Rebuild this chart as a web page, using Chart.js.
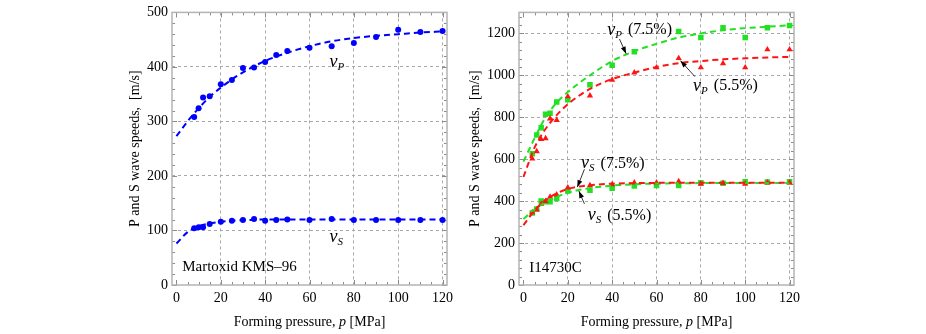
<!DOCTYPE html>
<html lang="en">
<head>
<meta charset="UTF-8">
<title>P and S wave speeds vs forming pressure</title>
<script src="https://cdn.jsdelivr.net/npm/chart.js"></script>
<style>
    body { margin: 0; background: #fff; }
    .wrap { position: relative; width: 926px; height: 334px; }
    canvas { position: absolute; top: 0; }
    #left { left: 0; }
    #right { left: 463px; }
</style>
</head>
<body>
<div class="wrap">
    <canvas id="left" width="463" height="334"></canvas>
    <canvas id="right" width="463" height="334"></canvas>
</div>
<script>
// ---- left panel: Martoxid KMS-96 (measured points) ----
const pressureM = [8, 10, 12, 15, 20, 25, 30, 35, 40, 45, 50, 60, 70, 80, 90, 100, 110, 120];
const vpM = [308, 324, 344, 346, 368, 376, 398, 399, 409, 422, 429, 435, 438, 444, 455, 468, 464, 466];
const vsM = [104, 106, 106, 112, 116, 118, 119, 121, 118, 119, 120, 119, 121, 119, 119, 119, 119, 119];
// fitted (dashed) curves
const fitPM = [0, 5, 10, 15, 20, 25, 30, 40, 50, 60, 70, 80, 90, 100, 110, 120];
const vpFitM = [273, 300, 324, 345, 362, 377, 390, 411, 426, 438, 447, 453, 457, 460, 463, 465];
const vsFitM = [76, 97, 108, 113, 116, 118, 119, 120, 120, 120, 120, 120, 120, 120, 120, 120];

// ---- right panel: I14730C, 7.5% (squares) and 5.5% (triangles) ----
const pressureI = [4, 6, 8, 10, 12, 15, 20, 30, 40, 50, 60, 70, 80, 90, 100, 110, 120];
const vp75 = [626, 715, 750, 814, 819, 873, 883, 955, 1048, 1112, null, 1209, 1180, 1227, 1180, 1227, 1237];
const vp55 = [602, 637, 695, 699, 793, 786, 899, 903, 978, 1013, 1037, 1081, 1037, 1057, 1037, 1123, 1123];
const vs75 = [343, 362, 401, 397, 397, 412, 448, 452, 461, 472, 475, 475, 488, 485, 492, 491, 492];
const vs55 = [346, 359, 386, 400, 420, 431, 464, 475, 480, 488, 488, 494, 482, 486, 482, 488, 488];
const fitPI = [0, 5, 10, 15, 20, 30, 40, 50, 60, 70, 80, 90, 100, 110, 120];
const vpFit75 = [588, 700, 800, 870, 920, 1000, 1068, 1115, 1150, 1180, 1200, 1215, 1225, 1232, 1238];
const vpFit55 = [515, 655, 745, 810, 862, 935, 982, 1013, 1040, 1058, 1068, 1076, 1081, 1085, 1088];
const vsFit75 = [315, 360, 395, 420, 440, 462, 474, 480, 484, 485, 486, 487, 487, 487, 487];
const vsFit55 = [285, 355, 405, 437, 458, 476, 483, 486, 487, 488, 488, 488, 488, 488, 488];

// tick labels
const xTicks = [0, 20, 40, 60, 80, 100, 120];
const yTicksM = [0, 100, 200, 300, 400, 500];
const yTicksI = [0, 200, 400, 600, 800, 1000, 1200];

const serif = "'Liberation Serif', 'Times New Roman', serif";
const blue = "#0000ff";
const green = "#22e022";
const red = "#ff1414";

function pts(xs, ys) {
    return xs.map((x, i) => ({ x: x, y: ys[i] }));
}

function fitLine(xs, ys, color) {
    return {
        data: pts(xs, ys), showLine: true, borderColor: color, borderWidth: 2,
        borderDash: [6, 4], pointRadius: 0, cubicInterpolationMode: "monotone"
    };
}

function marks(xs, ys, color, style, r) {
    return {
        data: pts(xs, ys), showLine: false, pointStyle: style, pointRadius: r,
        pointBackgroundColor: color, pointBorderWidth: 0, borderColor: color
    };
}

// frame round the plot + small inward ticks on all four sides
function framePlugin(yMinor, yMajor) {
    return {
        id: "frame",
        beforeDatasetsDraw(chart) {
            const { ctx, chartArea: a, scales: { x, y } } = chart;
            ctx.save();
            ctx.strokeStyle = "#8a8a8a";
            ctx.lineWidth = 1;
            ctx.beginPath();
            for (let v = 0; v <= 120; v += 5) {
                const px = Math.round(x.getPixelForValue(v)) + 0.5;
                const len = v % 20 === 0 ? 5 : 3;
                ctx.moveTo(px, a.bottom); ctx.lineTo(px, a.bottom - len);
                ctx.moveTo(px, a.top); ctx.lineTo(px, a.top + len);
            }
            for (let v = 0; v <= y.max; v += yMinor) {
                const py = Math.round(y.getPixelForValue(v)) + 0.5;
                const len = v % yMajor === 0 ? 5 : 3;
                ctx.moveTo(a.left, py); ctx.lineTo(a.left + len, py);
                ctx.moveTo(a.right, py); ctx.lineTo(a.right - len, py);
            }
            ctx.stroke();
            ctx.strokeStyle = "#b4b4b4";
            ctx.lineWidth = 1.5;
            ctx.strokeRect(a.left, a.top, a.width, a.height);
            ctx.restore();
        }
    };
}

// labels, arrows and the x title (with italic p)
function notesPlugin(labels, arrows) {
    return {
        id: "notes",
        afterDraw(chart) {
            const { ctx, chartArea: a, scales: { x, y } } = chart;
            ctx.save();
            ctx.fillStyle = "#000";
            ctx.textBaseline = "middle";
            ctx.textAlign = "left";
            labels.forEach(l => {
                let px = x.getPixelForValue(l.x);
                const py = y.getPixelForValue(l.y);
                if (l.v) {
                    ctx.font = "italic 18px " + serif;
                    ctx.fillText("v", px, py);
                    px += ctx.measureText("v").width;
                    ctx.font = "italic 11px " + serif;
                    ctx.fillText(l.v, px, py + 5);
                    px += ctx.measureText(l.v).width + 2;
                }
                if (l.text) {
                    ctx.font = (l.v ? "16px " : "15px ") + serif;
                    ctx.fillText(l.text, px, py);
                }
            });
            ctx.strokeStyle = "#000";
            ctx.lineWidth = 0.8;
            arrows.forEach(ar => {
                const x0 = x.getPixelForValue(ar[0]), y0 = y.getPixelForValue(ar[1]);
                const x1 = x.getPixelForValue(ar[2]), y1 = y.getPixelForValue(ar[3]);
                const ang = Math.atan2(y1 - y0, x1 - x0);
                ctx.beginPath();
                ctx.moveTo(x0, y0); ctx.lineTo(x1, y1);
                ctx.stroke();
                ctx.beginPath();
                ctx.moveTo(x1, y1);
                ctx.lineTo(x1 - 7 * Math.cos(ang) + 2.5 * Math.sin(ang), y1 - 7 * Math.sin(ang) - 2.5 * Math.cos(ang));
                ctx.lineTo(x1 - 7 * Math.cos(ang) - 2.5 * Math.sin(ang), y1 - 7 * Math.sin(ang) + 2.5 * Math.cos(ang));
                ctx.closePath();
                ctx.fill();
            });
            // x axis title
            const parts = [["Forming pressure, ", "14px "], ["p", "italic 14px "], [" [MPa]", "14px "]];
            let total = 0;
            parts.forEach(p => { ctx.font = p[1] + serif; total += ctx.measureText(p[0]).width; });
            let tx = (a.left + a.right) / 2 - total / 2;
            parts.forEach(p => {
                ctx.font = p[1] + serif;
                ctx.fillText(p[0], tx, 322);
                tx += ctx.measureText(p[0]).width;
            });
            ctx.restore();
        }
    };
}

function makeChart(id, datasets, yMax, yTicks, yWidth, pad, yMinor, yMajor, labels, arrows) {
    return new Chart(document.getElementById(id), {
        type: "scatter",
        data: { datasets: datasets },
        options: {
            responsive: false,
            animation: false,
            events: [],
            layout: { padding: pad },
            plugins: { legend: { display: false }, tooltip: { enabled: false } },
            scales: {
                x: {
                    type: "linear", min: -2, max: 122,
                    afterBuildTicks: s => { s.ticks = xTicks.map(v => ({ value: v })); },
                    afterFit: s => { s.height = 49; },
                    grid: {
                        color: c => (c.tick && c.tick.value === 0) ? "rgba(0,0,0,0)" : "#a8a8a8",
                        drawTicks: false, lineWidth: 1
                    },
                    border: { display: false, dash: [3, 3] },
                    ticks: {
                        font: { family: serif, size: 14 }, color: "#000", padding: 5, maxRotation: 0,
                        callback: v => String(v)
                    }
                },
                y: {
                    type: "linear", min: 0, max: yMax,
                    afterBuildTicks: s => { s.ticks = yTicks.map(v => ({ value: v })); },
                    afterFit: s => { s.width = yWidth; },
                    grid: {
                        color: c => (c.tick && c.tick.value === 0) ? "rgba(0,0,0,0)" : "#a8a8a8",
                        drawTicks: false, lineWidth: 1
                    },
                    border: { display: false, dash: [3, 3] },
                    ticks: {
                        font: { family: serif, size: 14 }, color: "#000", padding: 4,
                        callback: v => String(v)
                    },
                    title: {
                        display: true, text: "P and S wave speeds,  [m/s]",
                        font: { family: serif, size: 14 }, color: "#000", padding: { top: 4, bottom: 4 }
                    }
                }
            }
        },
        plugins: [framePlugin(yMinor, yMajor), notesPlugin(labels, arrows)]
    });
}

makeChart("left", [
    fitLine(fitPM, vpFitM, blue),
    fitLine(fitPM, vsFitM, blue),
    marks(pressureM, vpM, blue, "circle", 3),
    marks(pressureM, vsM, blue, "circle", 3)
], 500, yTicksM, 49, { left: 123, right: 16, top: 10, bottom: 0 }, 20, 100, [
    { x: 69, y: 409, v: "P" },
    { x: 69, y: 87, v: "S" },
    { x: 2.6, y: 32, text: "Martoxid KMS\u201396" }
], []);

makeChart("right", [
    fitLine(fitPI, vpFit55, red),
    fitLine(fitPI, vsFit55, red),
    fitLine(fitPI, vpFit75, green),
    fitLine(fitPI, vsFit75, green),
    marks(pressureI, vp55, red, "triangle", 3.6),
    marks(pressureI, vs55, red, "triangle", 3.6),
    marks(pressureI, vp75, green, "rect", 3.9),
    marks(pressureI, vs75, green, "rect", 3.9)
], 1300, yTicksI, 56, { left: 0, right: 132, top: 9, bottom: 0 }, 40, 200, [
    { x: 37.8, y: 1217, v: "P", text: " (7.5%)" },
    { x: 76.5, y: 950, v: "P", text: " (5.5%)" },
    { x: 26, y: 580, v: "S", text: " (7.5%)" },
    { x: 29, y: 331, v: "S", text: " (5.5%)" },
    { x: 2.6, y: 81, text: "I14730C" }
], [
    [43.3, 1173, 46.3, 1103],
    [77.3, 994, 70.8, 1070],
    [27.5, 552, 24.3, 467],
    [27.5, 387, 25, 448]
]);
</script>
</body>
</html>
